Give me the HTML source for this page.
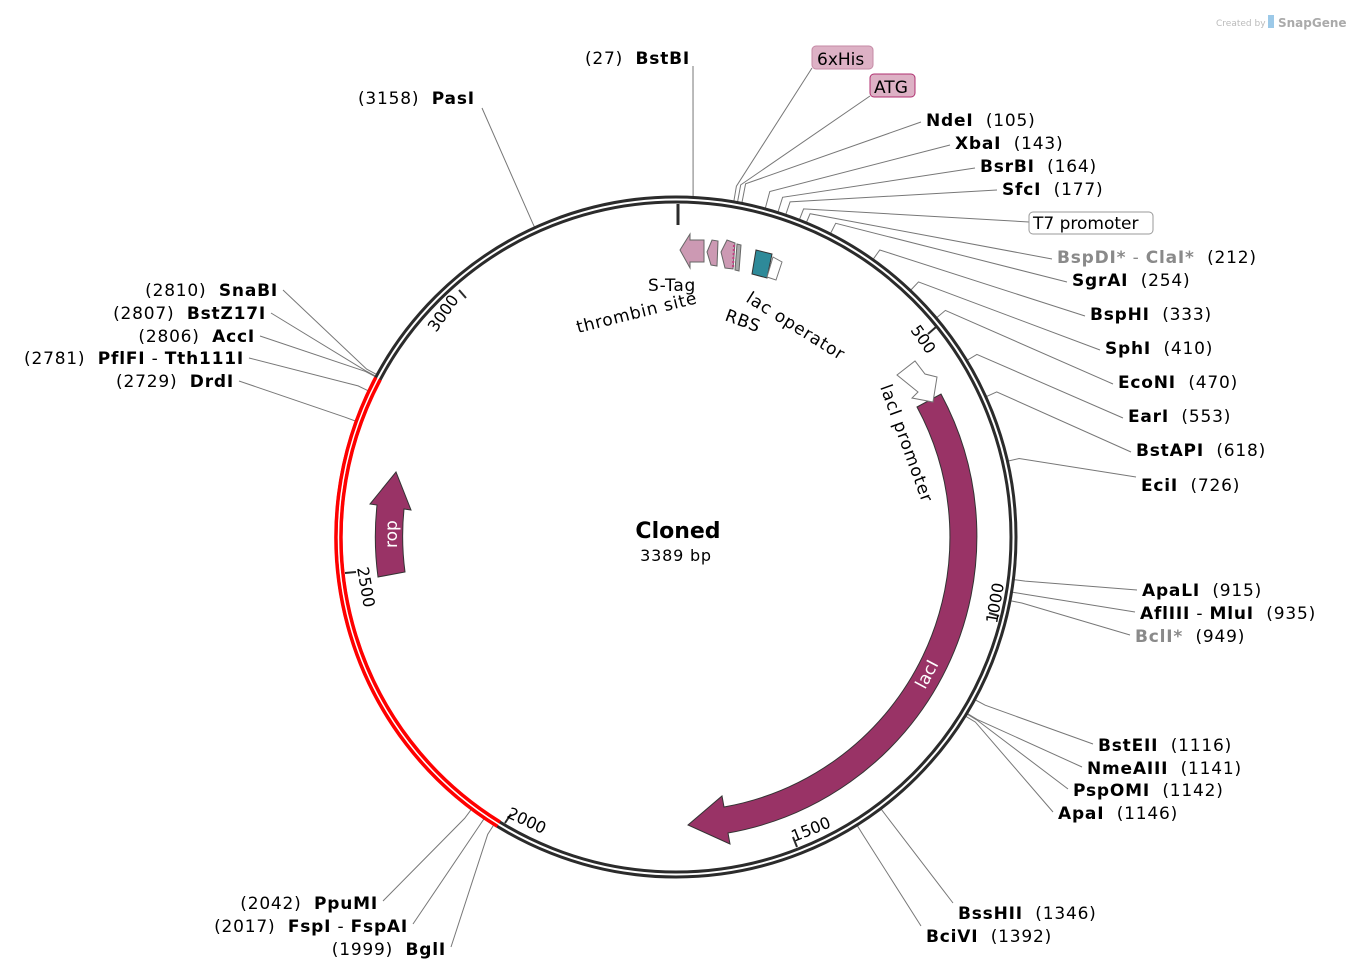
<!DOCTYPE html>
<html><head><meta charset="utf-8"><style>
html,body{margin:0;padding:0;background:#fff;}
svg{display:block;font-family:"DejaVu Sans","Liberation Sans",sans-serif;}
.b{font-weight:bold;}
.t{font-size:17px;fill:#000;letter-spacing:0.8px;}
.g{fill:#8a8a8a;}
.ls{letter-spacing:0.8px;}
</style></head><body>
<svg id="s" width="1351" height="969" viewBox="0 0 1351 969" xmlns="http://www.w3.org/2000/svg">
<g id="lines" stroke="#777" stroke-width="1" fill="none"></g>
<!-- backbone -->
<circle cx="676" cy="537" r="340" fill="none" stroke="#2b2b2b" stroke-width="3"/>
<circle cx="676" cy="537" r="335" fill="none" stroke="#2b2b2b" stroke-width="3"/>
<path d="M497.3,826.3 A340,340 0 0 1 375.8,377.4" fill="none" stroke="#f00" stroke-width="3.5"/>
<path d="M500.0,822.0 A335,335 0 0 1 380.2,379.7" fill="none" stroke="#f00" stroke-width="3.5"/>
<!-- ticks -->
<g stroke="#2b2b2b" stroke-width="2">
<line x1="678" y1="204" x2="678" y2="225" stroke-width="3"/>
<line x1="936" y1="327" x2="928" y2="334"/>
<line x1="999" y1="616" x2="989" y2="613"/>
<line x1="797" y1="847" x2="793" y2="837"/>
<line x1="505" y1="823" x2="511" y2="814"/>
<line x1="345" y1="573" x2="356" y2="572"/>
<line x1="459" y1="290" x2="466" y2="298"/>
</g>
<g font-size="16" fill="#000">
<text transform="translate(910,330) rotate(55)">500</text>
<text transform="translate(997,624) rotate(-80)">1000</text>
<text transform="translate(794,842) rotate(-22)">1500</text>
<text transform="translate(506,817) rotate(25)">2000</text>
<text transform="translate(357,568) rotate(80)">2500</text>
<text transform="translate(436,333) rotate(-55)">3000</text>
</g>
<!-- lacI -->
<path d="M941,394 A301,301 0 0 1 728,833 L730,844 L688,825 L722,796 L724,807 A274,274 0 0 0 917,407 Z" fill="#993366" stroke="#333" stroke-width="1"/>
<text transform="translate(925,690) rotate(-62)" font-size="17" fill="#fff">lacI</text>
<!-- rop -->
<path d="M378,577 A301,301 0 0 1 377,505 L370,504 L396,472 L411,510 L404,509 A273,273 0 0 0 405,572 Z" fill="#993366" stroke="#333" stroke-width="1"/>
<text transform="translate(397,548) rotate(-90)" font-size="17" fill="#fff">rop</text>
<!-- lacI promoter arrow -->
<path d="M897,375 L915,361 L925,374 L937,377 L933,402 L912,398 L918,392 Z" fill="#fff" stroke="#777"/>
<text transform="translate(880,387) rotate(70)" font-size="17" class="ls">lacI promoter</text>
<!-- top features -->
<path d="M680,250 L690,234 L690,240 L704,240 L704,262 L690,262 L690,268 Z" fill="#cc99b3" stroke="#666"/>
<path d="M707,252 L712,240 L718,241 L717,266 L711,265 Z" fill="#cc99b3" stroke="#666"/>
<path d="M721,252 L727,240 L735,243 L733,269 L725,268 Z" fill="#cc99b3" stroke="#666"/>
<line x1="734" y1="245" x2="733" y2="268" stroke="#c04080" stroke-width="2" stroke-dasharray="2,2"/>
<path d="M737,244 L741,245 L739,271 L735,270 Z" fill="#aaa" stroke="#666"/>
<path d="M756,250 L772,254 L767,278 L752,274 Z" fill="#2e8a99" stroke="#333"/>
<path d="M773,257 L782,262 L776,280 L767,277 Z" fill="#fff" stroke="#777"/>
<g font-size="17" class="ls">
<text x="648" y="291">S-Tag</text>
<text transform="translate(578,333) rotate(-14)">thrombin site</text>
<text transform="translate(724,320) rotate(20)">RBS</text>
<text transform="translate(745,301) rotate(32)">lac operator</text>
</g>
<!-- center -->
<text x="678" y="538" text-anchor="middle" font-size="22" class="b">Cloned</text>
<text x="676" y="561" text-anchor="middle" font-size="16" class="ls">3389 bp</text>
<!-- boxes -->
<rect x="812" y="46" width="61" height="23" rx="4" fill="#ddb1c5" stroke="#c58aa5"/>
<text x="817" y="65" font-size="17">6xHis</text>
<rect x="870" y="74" width="45" height="23" rx="4" fill="#ddb1c5" stroke="#b03070"/>
<text x="874" y="93" font-size="17">ATG</text>
<rect x="1029" y="212" width="124" height="22" rx="4" fill="#fff" stroke="#999"/>
<text x="1033" y="229" font-size="17">T7 promoter</text>
<!-- labels -->
<g class="t">
<text x="585" y="64">(27)&#160;&#160;<tspan class="b">BstBI</tspan></text>
<text x="358" y="104">(3158)&#160;&#160;<tspan class="b">PasI</tspan></text>
<text x="926" y="126"><tspan class="b">NdeI</tspan>&#160;&#160;(105)</text>
<text x="955" y="149"><tspan class="b">XbaI</tspan>&#160;&#160;(143)</text>
<text x="980" y="172"><tspan class="b">BsrBI</tspan>&#160;&#160;(164)</text>
<text x="1002" y="195"><tspan class="b">SfcI</tspan>&#160;&#160;(177)</text>
<text x="1057" y="263"><tspan class="b g">BspDI*</tspan><tspan class="g"> - </tspan><tspan class="b g">ClaI*</tspan>&#160;&#160;(212)</text>
<text x="1072" y="286"><tspan class="b">SgrAI</tspan>&#160;&#160;(254)</text>
<text x="1090" y="320"><tspan class="b">BspHI</tspan>&#160;&#160;(333)</text>
<text x="1105" y="354"><tspan class="b">SphI</tspan>&#160;&#160;(410)</text>
<text x="1118" y="388"><tspan class="b">EcoNI</tspan>&#160;&#160;(470)</text>
<text x="1128" y="422"><tspan class="b">EarI</tspan>&#160;&#160;(553)</text>
<text x="1136" y="456"><tspan class="b">BstAPI</tspan>&#160;&#160;(618)</text>
<text x="1141" y="491"><tspan class="b">EciI</tspan>&#160;&#160;(726)</text>
<text x="1142" y="596"><tspan class="b">ApaLI</tspan>&#160;&#160;(915)</text>
<text x="1140" y="619"><tspan class="b">AflIII</tspan> - <tspan class="b">MluI</tspan>&#160;&#160;(935)</text>
<text x="1135" y="642"><tspan class="b g">BclI*</tspan>&#160;&#160;(949)</text>
<text x="1098" y="751"><tspan class="b">BstEII</tspan>&#160;&#160;(1116)</text>
<text x="1087" y="774"><tspan class="b">NmeAIII</tspan>&#160;&#160;(1141)</text>
<text x="1073" y="796"><tspan class="b">PspOMI</tspan>&#160;&#160;(1142)</text>
<text x="1058" y="819"><tspan class="b">ApaI</tspan>&#160;&#160;(1146)</text>
<text x="958" y="919"><tspan class="b">BssHII</tspan>&#160;&#160;(1346)</text>
<text x="926" y="942"><tspan class="b">BciVI</tspan>&#160;&#160;(1392)</text>
<text x="378" y="909" text-anchor="end">(2042)&#160;&#160;<tspan class="b">PpuMI</tspan></text>
<text x="408" y="932" text-anchor="end">(2017)&#160;&#160;<tspan class="b">FspI</tspan> - <tspan class="b">FspAI</tspan></text>
<text x="446" y="955" text-anchor="end">(1999)&#160;&#160;<tspan class="b">BglI</tspan></text>
<text x="278" y="296" text-anchor="end">(2810)&#160;&#160;<tspan class="b">SnaBI</tspan></text>
<text x="266" y="319" text-anchor="end">(2807)&#160;&#160;<tspan class="b">BstZ17I</tspan></text>
<text x="255" y="342" text-anchor="end">(2806)&#160;&#160;<tspan class="b">AccI</tspan></text>
<text x="244" y="364" text-anchor="end">(2781)&#160;&#160;<tspan class="b">PflFI</tspan> - <tspan class="b">Tth111I</tspan></text>
<text x="234" y="387" text-anchor="end">(2729)&#160;&#160;<tspan class="b">DrdI</tspan></text>
</g>
<text x="1216" y="26" font-size="9" fill="#bbb">Created by</text>
<text x="1278" y="27" font-size="12" fill="#aaa" class="b">SnapGene</text>
<rect x="1268" y="15" width="6" height="13" fill="#9cc9e8"/>
</svg>
<script>
(function(){
var g=document.getElementById('lines');
var L=[[27,693,66,342],[3158,482,108,345],[105,921,122,360],[143,950,145,358],[164,975,168,356],[177,997,190,354],
[200,1029,222,352],[212,1052,259,350],[254,1067,282,352],[333,1085,316,352],[410,1100,350,352],[470,1113,384,352],
[553,1123,418,352],[618,1131,452,352],[726,1136,477,352],[915,1137,590,352],[935,1135,612,352],[949,1130,635,352],
[1116,1093,744,352],[1141,1082,767,352],[1142,1068,789,352],[1146,1053,812,352],
[1346,953,903,352],[1392,921,926,352],[2042,383,901,352],[2017,413,924,352],[1999,451,947,352],
[2810,283,290,352],[2807,271,313,352],[2806,260,336,352],[2781,249,358,352],[2729,239,381,352],
[92,812,68,356],[98,870,96,358]];
var s='';
L.forEach(function(a){
 var t=(a[0]/3389*360)*Math.PI/180;var sn=Math.sin(t),cs=Math.cos(t);
 var x1=676+341*sn,y1=537-341*cs,x2=676+a[3]*sn,y2=537-a[3]*cs;
 s+='<polyline points="'+x1.toFixed(1)+','+y1.toFixed(1)+' '+x2.toFixed(1)+','+y2.toFixed(1)+' '+a[1]+','+a[2]+'"/>';
});
g.innerHTML=s;
})();
</script>
</body></html>
